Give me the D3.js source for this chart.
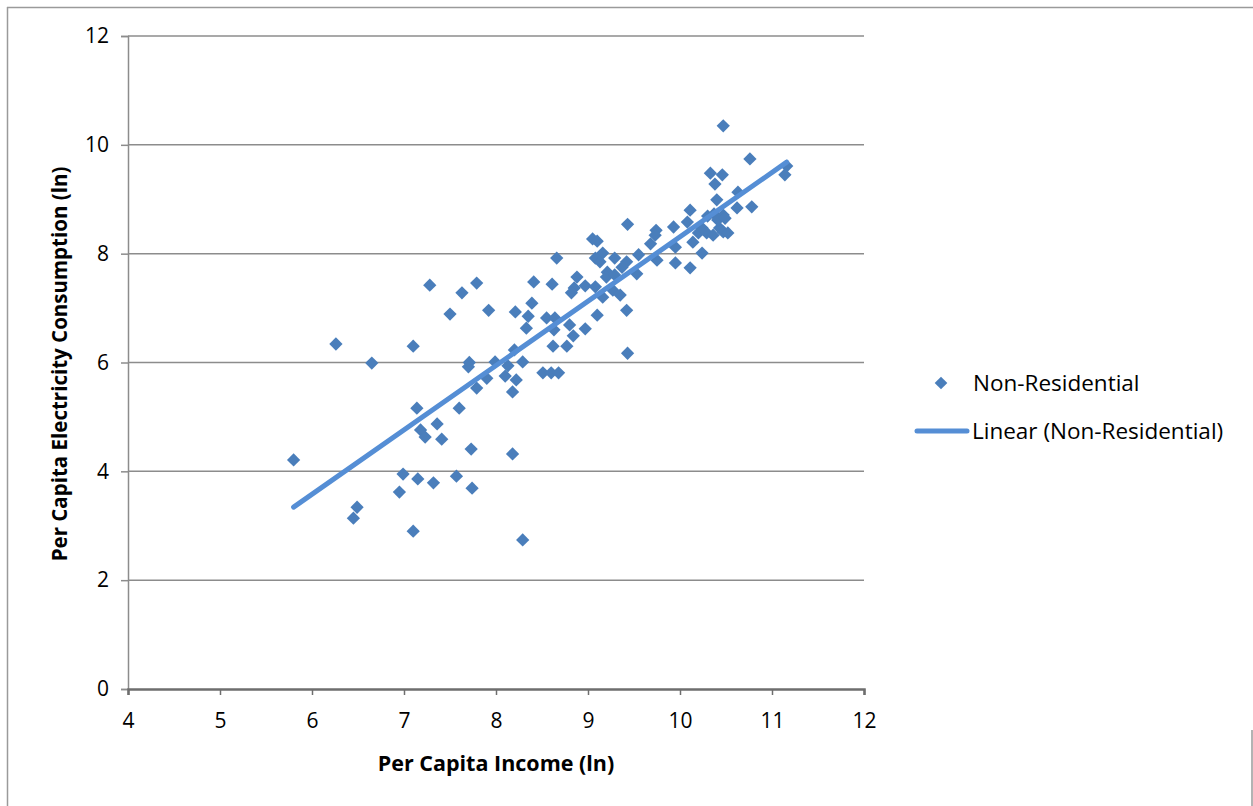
<!DOCTYPE html>
<html>
<head>
<meta charset="utf-8">
<script src="https://cdn.jsdelivr.net/npm/d3@7/dist/d3.min.js"></script>
<style>
  html, body { margin: 0; padding: 0; background: #fff; }
  svg { display: block; }
  text { font-family: "Open Sans", Lato, "Liberation Sans", sans-serif; fill: #000; }
</style>
</head>
<body>
<svg id="chart" width="1253" height="806"></svg>
<script>
// Non-Residential: per capita income (ln)
const incomeLn = [
  5.80, 6.26, 6.65, 6.45, 6.49, 6.95, 6.99, 7.10, 7.10, 7.14,
  7.15, 7.18, 7.23, 7.28, 7.32, 7.36, 7.41, 7.50, 7.57, 7.60,
  7.63, 7.70, 7.71, 7.73, 7.74, 7.79, 7.79, 7.90, 7.92, 7.99,
  8.10, 8.13, 8.18, 8.22, 8.20, 8.29, 8.18, 8.29, 8.21, 8.39,
  8.35, 8.33, 8.41, 8.61, 8.66, 8.55, 8.64, 8.63, 8.62, 8.77,
  8.80, 8.84, 8.97, 9.10, 8.51, 8.60, 8.68, 8.88, 8.85, 8.82,
  8.97, 9.08, 9.16, 9.05, 9.10, 9.16, 9.08, 9.13, 9.29, 9.21,
  9.20, 9.29, 9.42, 9.37, 9.55, 9.75, 9.95, 10.11, 10.24, 9.53,
  9.27, 9.35, 9.42, 9.43, 9.43, 9.74, 9.73, 9.93, 10.08, 9.68,
  9.95, 10.14, 10.20, 10.24, 10.29, 10.36, 10.43, 10.47, 10.52, 10.30,
  10.37, 10.41, 10.47, 10.49, 10.11, 10.40, 10.62, 10.78, 10.63, 10.33,
  10.46, 10.38, 10.76, 11.14, 11.16, 10.47
];
// Non-Residential: per capita electricity consumption (ln)
const electricityLn = [
  4.21, 6.34, 5.99, 3.14, 3.34, 3.62, 3.95, 6.30, 2.90, 5.16,
  3.86, 4.76, 4.63, 7.42, 3.79, 4.87, 4.59, 6.89, 3.91, 5.16,
  7.28, 5.92, 6.00, 4.41, 3.69, 7.46, 5.53, 5.71, 6.96, 6.01,
  5.75, 5.94, 5.46, 5.68, 6.23, 6.01, 4.32, 2.74, 6.93, 7.09,
  6.85, 6.63, 7.48, 7.44, 7.92, 6.82, 6.82, 6.60, 6.30, 6.30,
  6.69, 6.49, 6.62, 6.87, 5.81, 5.81, 5.81, 7.57, 7.37, 7.28,
  7.41, 7.39, 7.20, 8.27, 8.23, 8.01, 7.92, 7.85, 7.92, 7.66,
  7.57, 7.61, 7.85, 7.75, 7.98, 7.88, 7.83, 7.74, 8.01, 7.63,
  7.33, 7.24, 6.96, 6.17, 8.54, 8.43, 8.34, 8.49, 8.58, 8.18,
  8.12, 8.21, 8.38, 8.47, 8.38, 8.34, 8.47, 8.40, 8.38, 8.69,
  8.73, 8.62, 8.71, 8.65, 8.80, 8.99, 8.84, 8.86, 9.13, 9.48,
  9.45, 9.28, 9.74, 9.45, 9.61, 10.35
];
const xTicks = [4, 5, 6, 7, 8, 9, 10, 11, 12];
const yTicks = [0, 2, 4, 6, 8, 10, 12];
const seriesName = "Non-Residential";
const trendName = "Linear (Non-Residential)";
const xTitle = "Per Capita Income (ln)";
const yTitle = "Per Capita Electricity Consumption (ln)";

const svg = d3.select("#chart");
const plot = { left: 128, right: 864, top: 36, bottom: 689 };
const x = d3.scaleLinear().domain([4, 12]).range([plot.left, plot.right]);
const y = d3.scaleLinear().domain([0, 12]).range([plot.bottom, plot.top]);

const markColor = "#4a7ebb";
const lineColor = "#558ed5";
const gridColor = "#8c8c8c";

// outer frame
svg.append("line").attr("x1", 7).attr("x2", 1253).attr("y1", 7.5).attr("y2", 7.5)
  .attr("stroke", "#9a9a9a").attr("stroke-width", 1.5);
svg.append("line").attr("x1", 7.5).attr("x2", 7.5).attr("y1", 7).attr("y2", 806)
  .attr("stroke", "#9a9a9a").attr("stroke-width", 1.5);
svg.append("line").attr("x1", 1252).attr("x2", 1252).attr("y1", 730).attr("y2", 806)
  .attr("stroke", "#9a9a9a").attr("stroke-width", 1.5);

// gridlines
svg.append("g").selectAll("line").data(yTicks.filter(d => d > 0)).join("line")
  .attr("x1", plot.left).attr("x2", plot.right)
  .attr("y1", d => y(d)).attr("y2", d => y(d))
  .attr("stroke", gridColor).attr("stroke-width", 1.5);

// y axis
const yAxis = d3.axisLeft(y).tickValues(yTicks).tickSize(7).tickPadding(12).tickFormat(d3.format("d"));
const gy = svg.append("g").attr("transform", `translate(${plot.left},0)`).call(yAxis);
gy.select(".domain").attr("stroke", gridColor).attr("stroke-width", 1.5);
gy.selectAll(".tick line").attr("stroke", gridColor).attr("stroke-width", 1.5);
gy.selectAll(".tick text").attr("font-size", 21).style("font-family", "'Open Sans', Lato, sans-serif");

// x axis
const xAxis = d3.axisBottom(x).tickValues(xTicks).tickSize(6).tickPadding(18).tickFormat(d3.format("d"));
const gx = svg.append("g").attr("transform", `translate(0,${plot.bottom})`).call(xAxis);
gx.select(".domain").attr("stroke", "#6e6e6e").attr("stroke-width", 2.5);
gx.selectAll(".tick line").attr("stroke", "#6e6e6e").attr("stroke-width", 1.5);
gx.selectAll(".tick text").attr("font-size", 21).style("font-family", "'Open Sans', Lato, sans-serif");

// points
const pts = incomeLn.map((v, i) => ({ x: v, y: electricityLn[i] }));
svg.append("g").selectAll("path").data(pts).join("path")
  .attr("d", d3.symbol().type(d3.symbolSquare).size(88))
  .attr("transform", d => `translate(${x(d.x)},${y(d.y)}) rotate(45)`)
  .attr("fill", markColor);

// linear trendline (least squares on the series)
const mx = d3.mean(pts, d => d.x), my = d3.mean(pts, d => d.y);
const slope = d3.sum(pts, d => (d.x - mx) * (d.y - my)) / d3.sum(pts, d => (d.x - mx) ** 2);
const intercept = my - slope * mx;
const xExt = d3.extent(pts, d => d.x);
const trend = xExt.map(v => ({ x: v, y: intercept + slope * v }));
svg.append("path").datum(trend)
  .attr("d", d3.line().x(d => x(d.x)).y(d => y(d.y)))
  .attr("stroke", lineColor).attr("stroke-width", 5).attr("stroke-linecap", "round").attr("fill", "none");

// axis titles
svg.append("text").attr("x", 496).attr("y", 771).attr("text-anchor", "middle")
  .attr("font-size", 21.5).attr("font-weight", "bold").text(xTitle);
svg.append("text").attr("transform", "translate(67,364) rotate(-90)").attr("text-anchor", "middle")
  .attr("font-size", 20.5).attr("font-weight", "bold").text(yTitle);

// legend
const lg = svg.append("g");
lg.append("path").attr("d", d3.symbol().type(d3.symbolSquare).size(80))
  .attr("transform", "translate(941,383) rotate(45)").attr("fill", markColor);
lg.append("text").attr("x", 973).attr("y", 391).attr("font-size", 22.5).text(seriesName);
lg.append("line").attr("x1", 917).attr("x2", 967).attr("y1", 431).attr("y2", 431)
  .attr("stroke", lineColor).attr("stroke-width", 5).attr("stroke-linecap", "round");
lg.append("text").attr("x", 972).attr("y", 439).attr("font-size", 22.5).text(trendName);
</script>
</body>
</html>
